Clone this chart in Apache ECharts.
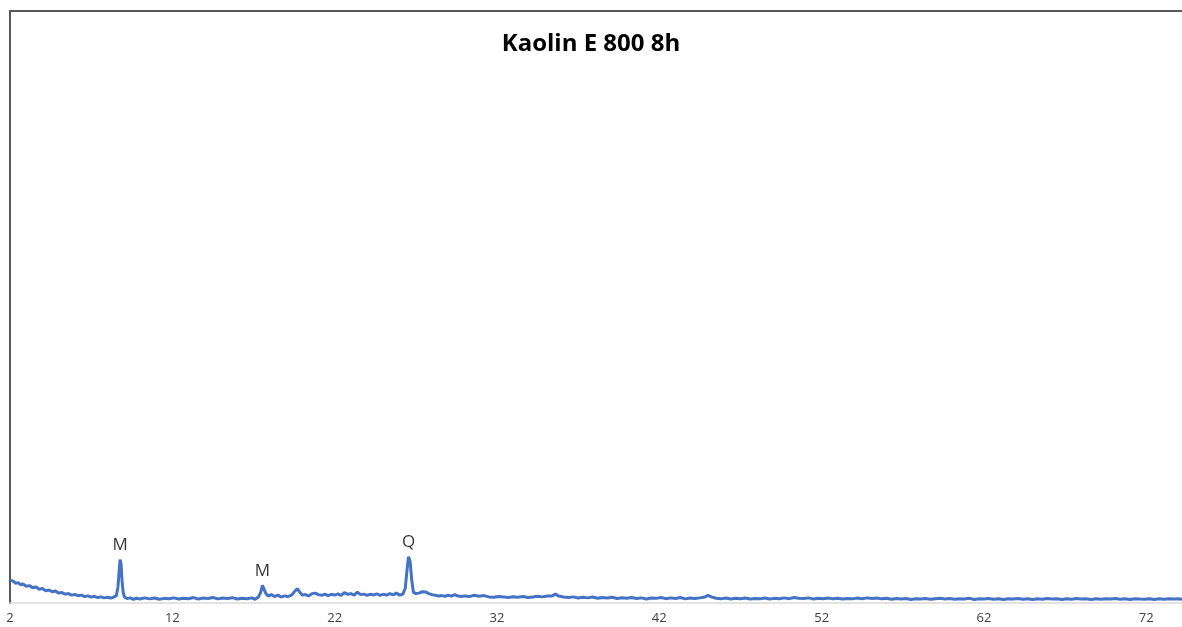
<!DOCTYPE html>
<html lang="en">
    <head>
        <meta charset="UTF-8">
        <title>Kaolin E 800 8h</title>
        <script src="https://cdn.jsdelivr.net/npm/echarts@6/dist/echarts.min.js"></script>
        <style>
            html, body { margin: 0; padding: 0; background: #fff; }
            #id_xrd { width: 1182px; height: 627px; }
        </style>

        <script>
            // 2theta (deg), intensity (counts)
            var scan = [
                [2.0,230],[2.1,215],[2.2,222],[2.35,200],[2.5,207],[2.65,185],[2.8,192],[3.0,170],[3.2,176],[3.4,155],
                [3.6,162],[3.8,140],[4.0,146],[4.2,125],[4.4,132],[4.6,114],[4.8,121],[5.0,100],[5.2,106],[5.4,90],
                [5.6,96],[5.8,80],[6.0,86],[6.2,74],[6.4,80],[6.6,65],[6.8,72],[7.0,60],[7.2,67],[7.4,55],
                [7.6,62],[7.8,52],[8.0,58],[8.2,50],[8.4,60],[8.55,75],[8.65,160],[8.72,320],[8.78,440],[8.84,400],
                [8.9,230],[8.97,110],[9.05,60],[9.2,45],[9.4,52],[9.6,38],[9.8,48],[10.0,40],[10.3,52],[10.6,42],
                [10.9,50],[11.2,38],[11.5,47],[11.8,44],[12.1,52],[12.4,40],[12.7,49],[13.0,43],[13.3,55],[13.6,41],
                [13.9,50],[14.2,45],[14.5,56],[14.8,42],[15.1,50],[15.4,46],[15.7,54],[16.0,40],[16.3,48],[16.6,44],
                [16.9,52],[17.1,38],[17.3,60],[17.45,110],[17.55,180],[17.65,160],[17.75,100],[17.9,70],[18.1,85],[18.3,65],
                [18.5,80],[18.7,60],[18.9,72],[19.1,65],[19.35,80],[19.55,120],[19.7,145],[19.85,110],[20.0,80],[20.2,86],
                [20.4,72],[20.6,95],[20.8,100],[21.0,85],[21.2,78],[21.4,90],[21.6,75],[21.8,88],[22.0,80],[22.2,92],
                [22.4,78],[22.6,105],[22.8,88],[23.0,95],[23.2,80],[23.4,110],[23.6,85],[23.8,90],[24.0,78],[24.2,88],
                [24.4,82],[24.6,92],[24.8,78],[25.0,88],[25.2,80],[25.4,95],[25.6,82],[25.8,100],[26.0,80],[26.2,90],
                [26.35,150],[26.45,320],[26.55,470],[26.65,420],[26.75,230],[26.85,110],[27.0,95],[27.2,100],[27.4,115],[27.6,112],
                [27.8,95],[28.0,85],[28.2,78],[28.4,70],[28.6,75],[28.8,68],[29.0,78],[29.2,70],[29.4,85],[29.6,70],
                [29.8,65],[30.0,72],[30.3,65],[30.6,78],[30.9,68],[31.2,75],[31.5,62],[31.8,58],[32.1,66],[32.4,62],
                [32.7,55],[33.0,64],[33.3,58],[33.6,66],[33.9,55],[34.2,60],[34.5,68],[34.8,62],[35.1,70],[35.4,72],
                [35.6,90],[35.8,70],[36.1,60],[36.4,55],[36.7,62],[37.0,50],[37.3,58],[37.6,52],[37.9,60],[38.2,48],
                [38.5,55],[38.8,50],[39.1,58],[39.4,46],[39.7,54],[40.0,48],[40.3,56],[40.6,45],[40.9,52],[41.2,40],
                [41.5,50],[41.8,47],[42.1,55],[42.4,44],[42.7,52],[43.0,46],[43.3,56],[43.6,42],[43.9,50],[44.2,45],
                [44.5,52],[44.8,60],[45.0,78],[45.2,62],[45.5,48],[45.8,42],[46.1,50],[46.4,40],[46.7,48],[47.0,44],
                [47.3,50],[47.6,40],[47.9,46],[48.2,42],[48.5,50],[48.8,40],[49.1,47],[49.4,43],[49.7,52],[50.0,44],
                [50.3,55],[50.6,48],[50.9,45],[51.2,52],[51.5,40],[51.8,48],[52.1,44],[52.4,50],[52.7,42],[53.0,48],
                [53.3,40],[53.6,46],[53.9,42],[54.2,50],[54.5,44],[54.8,52],[55.1,45],[55.4,50],[55.7,42],[56.0,48],
                [56.3,38],[56.6,45],[56.9,40],[57.2,46],[57.5,36],[57.8,44],[58.1,40],[58.4,46],[58.7,38],[59.0,44],
                [59.3,48],[59.6,40],[59.9,46],[60.2,38],[60.5,44],[60.8,40],[61.1,48],[61.4,36],[61.7,44],[62.0,40],
                [62.3,46],[62.6,38],[62.9,42],[63.2,36],[63.5,44],[63.8,40],[64.1,46],[64.4,38],[64.7,44],[65.0,36],
                [65.3,42],[65.6,38],[65.9,46],[66.2,40],[66.5,44],[66.8,36],[67.1,42],[67.4,38],[67.7,45],[68.0,40],
                [68.3,44],[68.6,36],[68.9,42],[69.2,38],[69.5,44],[69.8,40],[70.1,46],[70.4,38],[70.7,42],[71.0,36],
                [71.3,44],[71.6,40],[71.9,38],[72.2,44],[72.5,36],[72.8,42],[73.1,38],[73.4,44],[73.7,40],[74.0,42],
                [74.2,38]
            ];

            // phase labels over the peaks
            var peakNames = ['M', 'M', 'Q'];
            var peakAngles = [8.78, 17.55, 26.55];
            var peakHeights = [440, 180, 470];

            var xTicks = [2, 12, 22, 32, 42, 52, 62, 72];

            function drawXrd() {
                var myChart = echarts.init(document.getElementById("id_xrd"));

                var peakData = [];
                for (var i = 0; i < peakNames.length; i++) {
                    peakData.push({ name: peakNames[i], value: [peakAngles[i], peakHeights[i]] });
                }

                var option = {
                    backgroundColor: '#ffffff',
                    animation: false,
                    title: {
                        text: 'Kaolin E 800 8h',
                        left: 'center',
                        top: 27,
                        textStyle: {
                            fontFamily: 'Open Sans',
                            fontSize: 24,
                            fontWeight: 'bold',
                            color: '#000000'
                        }
                    },
                    grid: {
                        left: 10,
                        right: 0,
                        top: 11,
                        bottom: 24
                    },
                    xAxis: [
                        {
                            type: 'value',
                            position: 'bottom',
                            min: xTicks[0],
                            max: 74.2,
                            interval: 10,
                            splitLine: { show: false },
                            axisTick: { show: false },
                            axisLine: { lineStyle: { color: '#d9d9d9', width: 1.5 } },
                            axisLabel: {
                                showMaxLabel: false,
                                margin: 9,
                                fontFamily: 'Open Sans',
                                fontSize: 13,
                                color: '#404040'
                            }
                        },
                        {
                            // top edge of the frame
                            type: 'value',
                            position: 'top',
                            min: xTicks[0],
                            max: 74.2,
                            splitLine: { show: false },
                            axisTick: { show: false },
                            axisLabel: { show: false },
                            axisLine: { show: true, onZero: false, lineStyle: { color: '#595959', width: 2 } }
                        }
                    ],
                    yAxis: {
                        type: 'value',
                        min: 0,
                        max: 6000,
                        splitLine: { show: false },
                        axisTick: { show: false },
                        axisLabel: { show: false },
                        axisLine: { show: true, onZero: false, lineStyle: { color: '#595959', width: 2 } }
                    },
                    series: [
                        {
                            name: 'Kaolin E 800 8h',
                            type: 'line',
                            data: scan,
                            showSymbol: false,
                            smooth: false,
                            lineStyle: { color: '#4472c4', width: 3 },
                            z: 3
                        },
                        {
                            name: 'peaks',
                            type: 'scatter',
                            data: peakData,
                            symbolSize: 0,
                            silent: true,
                            label: {
                                show: true,
                                position: 'top',
                                distance: 6,
                                formatter: '{b}',
                                fontFamily: 'Open Sans',
                                fontSize: 17,
                                color: '#000000'
                            },
                            z: 4
                        }
                    ]
                };
                myChart.setOption(option);
            }

            window.onload = drawXrd;
        </script>
    </head>
    <body>
        <div id="id_xrd"></div>
    </body>
</html>
